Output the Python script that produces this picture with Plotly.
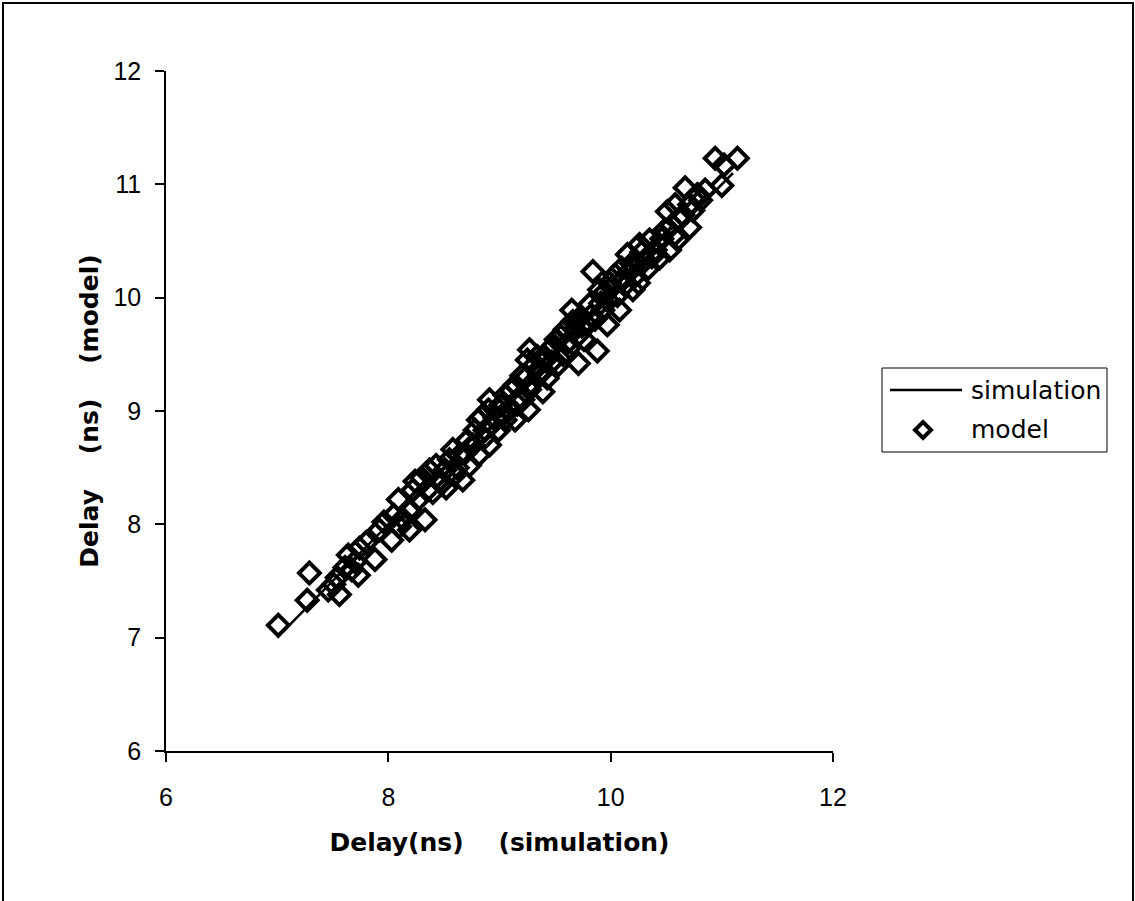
import plotly.graph_objects as go

# model points: (simulation delay, model delay)
model_x = [7.01, 7.27, 7.29, 7.46, 7.51, 7.54, 7.56, 7.61, 7.64, 7.67, 7.70, 7.73, 7.74, 7.80,
           7.88, 7.92, 7.96, 8.03, 8.05, 8.09, 8.10, 8.13, 8.19, 8.19, 8.22, 8.24, 8.27, 8.30,
           8.33, 8.35, 8.37, 8.40, 8.43, 8.46, 8.48, 8.51, 8.52, 8.55, 8.58, 8.60, 8.62, 8.64,
           8.67, 8.69, 8.71, 8.73, 8.76, 8.78, 8.81, 8.81, 8.84, 8.86, 8.87, 8.90, 8.91, 8.91,
           8.93, 8.96, 8.99, 9.01, 9.03, 9.05, 9.05, 9.09, 9.11, 9.14, 9.14, 9.16, 9.18, 9.20,
           9.21, 9.23, 9.25, 9.26, 9.27, 9.27, 9.29, 9.32, 9.34, 9.36, 9.38, 9.39, 9.41, 9.43,
           9.45, 9.47, 9.49, 9.51, 9.53, 9.55, 9.57, 9.59, 9.61, 9.63, 9.65, 9.66, 9.68, 9.70,
           9.71, 9.72, 9.74, 9.76, 9.79, 9.81, 9.82, 9.84, 9.86, 9.88, 9.90, 9.91, 9.93, 9.95,
           9.97, 9.97, 9.99, 10.01, 10.04, 10.06, 10.08, 10.10, 10.11, 10.13, 10.15, 10.17,
           10.19, 10.20, 10.22, 10.24, 10.25, 10.26, 10.28, 10.31, 10.33, 10.35, 10.37, 10.40,
           10.44, 10.46, 10.49, 10.51, 10.53, 10.55, 10.57, 10.58, 10.60, 10.62, 10.65, 10.67,
           10.71, 10.71, 10.74, 10.78, 10.81, 10.85, 10.94, 11.00, 11.02, 11.14]
model_y = [7.11, 7.33, 7.57, 7.42, 7.47, 7.53, 7.38, 7.62, 7.73, 7.60, 7.67, 7.55, 7.79, 7.84,
           7.69, 7.95, 8.02, 7.86, 8.08, 8.22, 7.98, 8.05, 8.13, 7.95, 8.30, 8.38, 8.22, 8.41,
           8.04, 8.30, 8.48, 8.28, 8.52, 8.39, 8.36, 8.48, 8.32, 8.57, 8.66, 8.44, 8.50, 8.61,
           8.39, 8.63, 8.74, 8.52, 8.70, 8.83, 8.92, 8.61, 8.95, 8.76, 8.83, 9.01, 8.70, 9.10,
           8.88, 8.94, 8.83, 9.05, 8.97, 8.92, 9.14, 9.01, 9.18, 9.23, 8.92, 9.06, 9.12, 9.31,
           9.10, 9.29, 9.45, 9.01, 9.19, 9.54, 9.24, 9.41, 9.48, 9.32, 9.36, 9.17, 9.45, 9.29,
           9.54, 9.43, 9.58, 9.63, 9.41, 9.66, 9.50, 9.72, 9.60, 9.56, 9.89, 9.79, 9.72, 9.66,
           9.42, 9.82, 9.75, 9.63, 9.76, 9.94, 9.84, 10.23, 9.81, 9.53, 10.07, 9.95, 9.89, 10.05,
           9.98, 9.76, 10.13, 10.09, 10.20, 10.02, 9.89, 10.26, 10.16, 10.11, 10.38, 10.23,
           10.30, 10.07, 10.19, 10.31, 10.13, 10.47, 10.40, 10.33, 10.25, 10.51, 10.36, 10.42,
           10.35, 10.52, 10.60, 10.76, 10.42, 10.64, 10.55, 10.82, 10.51, 10.69, 10.73, 10.97,
           10.82, 10.62, 10.77, 10.91, 10.86, 10.95, 11.23, 10.99, 11.17, 11.23]

# simulation line: model delay equals simulated delay along the full run
sim_x = [7.0] + sorted(model_x)[1:-1] + [11.1]
sim_y = list(sim_x)

x_ticks = [6, 8, 10, 12]
y_ticks = [6, 7, 8, 9, 10, 11, 12]
legend_names = ["simulation", "model"]

TICK_FONT = "Liberation Sans, Arial, sans-serif"
WIDE_FONT = "DejaVu Sans, Verdana, sans-serif"

# plot area in pixels: x 166..833, y 71..751
L, T, PW, PH = 166, 71, 667, 680


def px(x):
    return (x - L) / PW


def py(y):
    return (T + PH - y) / PH


fig = go.Figure()
fig.add_trace(go.Scatter(
    x=sim_x, y=sim_y, mode="lines", name=legend_names[0],
    line=dict(color="black", width=2.5), showlegend=False))
fig.add_trace(go.Scatter(
    x=model_x, y=model_y, mode="markers", name=legend_names[1],
    marker=dict(symbol="diamond-open", size=16, color="black",
                line=dict(color="black", width=4)), showlegend=False))

# diamond for the legend key
dc_x, dc_y, dh = 923, 430, 8
diamond_path = "M {} {} L {} {} L {} {} L {} {} Z".format(
    px(dc_x - dh), py(dc_y), px(dc_x), py(dc_y - dh),
    px(dc_x + dh), py(dc_y), px(dc_x), py(dc_y + dh))

shapes = [
    # outer chart frame
    dict(type="rect", xref="paper", yref="paper", layer="above",
         x0=px(3), x1=px(1133), y0=py(910), y1=py(3),
         line=dict(color="black", width=2)),
    # legend box
    dict(type="rect", xref="paper", yref="paper",
         x0=px(882), x1=px(1107), y0=py(452), y1=py(368),
         line=dict(color="black", width=1), fillcolor="white"),
    # legend line key
    dict(type="line", xref="paper", yref="paper",
         x0=px(890), x1=px(962), y0=py(390), y1=py(390),
         line=dict(color="black", width=2.5)),
    dict(type="path", xref="paper", yref="paper", path=diamond_path,
         line=dict(color="black", width=4)),
]
annotations = [
    dict(text=legend_names[0], xref="paper", yref="paper", x=px(969), y=py(390),
         xanchor="left", yanchor="middle", showarrow=False,
         font=dict(family=WIDE_FONT, size=25, color="black")),
    dict(text=legend_names[1], xref="paper", yref="paper", x=px(969), y=py(429),
         xanchor="left", yanchor="middle", showarrow=False,
         font=dict(family=WIDE_FONT, size=25, color="black")),
]

fig.update_layout(
    width=1135, height=901,
    paper_bgcolor="white", plot_bgcolor="white",
    margin=dict(l=L, r=1135 - L - PW, t=T, b=901 - T - PH),
    font=dict(family=TICK_FONT, color="black", size=24),
    showlegend=False,
    shapes=shapes,
    annotations=annotations,
)

fig.update_xaxes(
    range=[6, 12], tickvals=x_ticks, ticktext=[str(v) for v in x_ticks],
    showgrid=False, zeroline=False,
    showline=True, linecolor="black", linewidth=1.5,
    ticks="outside", ticklen=9, tickwidth=1.5, tickcolor="black",
    tickfont=dict(size=25, family=TICK_FONT), ticklabelstandoff=14,
    title=dict(text="<b>Delay(ns)    (simulation)</b>",
               font=dict(size=25, family=WIDE_FONT), standoff=24),
)
fig.update_yaxes(
    range=[6, 12], tickvals=y_ticks, ticktext=[str(v) for v in y_ticks],
    showgrid=False, zeroline=False,
    showline=True, linecolor="black", linewidth=1.5,
    ticks="outside", ticklen=9, tickwidth=1.5, tickcolor="black",
    tickfont=dict(size=25, family=TICK_FONT), ticklabelstandoff=9,
    title=dict(text="<b>Delay    (ns)    (model)</b>",
               font=dict(size=25, family=WIDE_FONT), standoff=8),
)

fig.write_html("out.html", config={"displayModeBar": False},
               post_script="document.body.style.margin='0';")
